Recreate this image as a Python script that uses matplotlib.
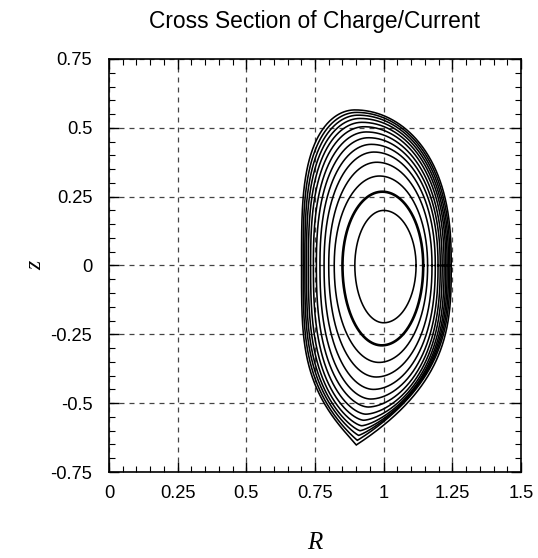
import numpy as np
import matplotlib
matplotlib.use("Agg")
import matplotlib.pyplot as plt
from matplotlib.ticker import MultipleLocator, FuncFormatter

# ---- data (contours, inner -> outer) ----
r_inner = [0.895, 0.850, 0.820, 0.800, 0.783, 0.768, 0.755, 0.744, 0.734, 0.726, 0.719, 0.713, 0.707, 0.701]
r_outer = [1.118, 1.144, 1.160, 1.176, 1.188, 1.198, 1.206, 1.213, 1.220, 1.226, 1.231, 1.236, 1.241, 1.246]
z_top   = [0.200, 0.268, 0.325, 0.375, 0.412, 0.440, 0.464, 0.485, 0.504, 0.520, 0.534, 0.546, 0.556, 0.565]
r_top   = [1.000, 0.995, 0.985, 0.975, 0.965, 0.955, 0.945, 0.937, 0.929, 0.921, 0.914, 0.907, 0.901, 0.895]
z_bot   = [-0.208, -0.290, -0.352, -0.405, -0.450, -0.485, -0.514, -0.540, -0.562, -0.582, -0.600, -0.617, -0.635, -0.652]
r_bot   = [1.000, 0.993, 0.983, 0.973, 0.963, 0.953, 0.944, 0.935, 0.927, 0.920, 0.914, 0.909, 0.904, 0.900]
thick_index = 1

x_ticks = [0, 0.25, 0.5, 0.75, 1, 1.25, 1.5]
y_ticks = [-0.75, -0.5, -0.25, 0, 0.25, 0.5, 0.75]

plt.rcParams['axes.unicode_minus'] = False
fig = plt.figure(figsize=(5.38, 5.58), dpi=100)
ax = fig.add_axes([0.2026, 0.1541, 0.7658, 0.7402])

def quarter(r_edge, r_apex, z_apex, p, q, n=300):
    u = np.linspace(0, np.pi / 2, n)
    t = np.sin(u)
    f = np.clip(1 - t ** p, 0, 1) ** q
    return r_apex + (r_edge - r_apex) * f, z_apex * t

N = len(r_inner)
for k in range(N):
    s = k / (N - 1)
    p_ur = 2 + 0.5 * s
    p_ul = 2 + 1.4 * s ** 1.5
    p_ll = 2 + 1.6 * s ** 1.5
    p_lr = 2 + 0.9 * s
    q_up = 0.5
    q_lo = 0.5 + 0.6 * s ** 3
    R1, Z1 = quarter(r_outer[k], r_top[k], z_top[k], p_ur, q_up)
    R2, Z2 = quarter(r_inner[k], r_top[k], z_top[k], p_ul, q_up)
    R3, Z3 = quarter(r_inner[k], r_bot[k], z_bot[k], p_ll, q_lo)
    R4, Z4 = quarter(r_outer[k], r_bot[k], z_bot[k], p_lr, min(q_lo, 1.0))
    R = np.concatenate([R1, R2[::-1], R3, R4[::-1]])
    Z = np.concatenate([Z1, Z2[::-1], Z3, Z4[::-1]])
    lw = 1.9 if k == thick_index else 1.15
    ax.plot(R, Z, color='black', lw=lw, solid_joinstyle='miter', zorder=3)

ax.set_xlim(0, 1.5)
ax.set_ylim(-0.75, 0.75)
ax.set_xticks(x_ticks)
ax.set_yticks(y_ticks)
fmt = FuncFormatter(lambda v, pos: ('%g' % v))
ax.xaxis.set_major_formatter(fmt)
ax.yaxis.set_major_formatter(fmt)
ax.xaxis.set_minor_locator(MultipleLocator(0.05))
ax.yaxis.set_minor_locator(MultipleLocator(0.05))
ax.tick_params(which='both', direction='in', top=True, right=True, colors='black')
ax.tick_params(which='major', length=7, width=1.0)
ax.tick_params(which='minor', length=4, width=0.8)
ax.tick_params(axis='x', which='major', pad=9, labelsize=13.2)
ax.tick_params(axis='y', which='major', pad=12, labelsize=13.2)
for lab in ax.get_xticklabels() + ax.get_yticklabels():
    lab.set_family('Liberation Sans')
for sp in ax.spines.values():
    sp.set_linewidth(1.2)
ax.grid(True, which='major', color='#444444', lw=0.9, ls=(0, (4, 4)), zorder=1)

ax.set_title('Cross Section of Charge/Current', family='Liberation Sans', fontsize=16.4, pad=22)
ax.set_xlabel('R', family='Liberation Serif', style='italic', fontsize=18, labelpad=22)
ax.set_ylabel('z', family='Liberation Serif', style='italic', fontsize=17, labelpad=3)

fig.savefig('out.png', dpi=100)
